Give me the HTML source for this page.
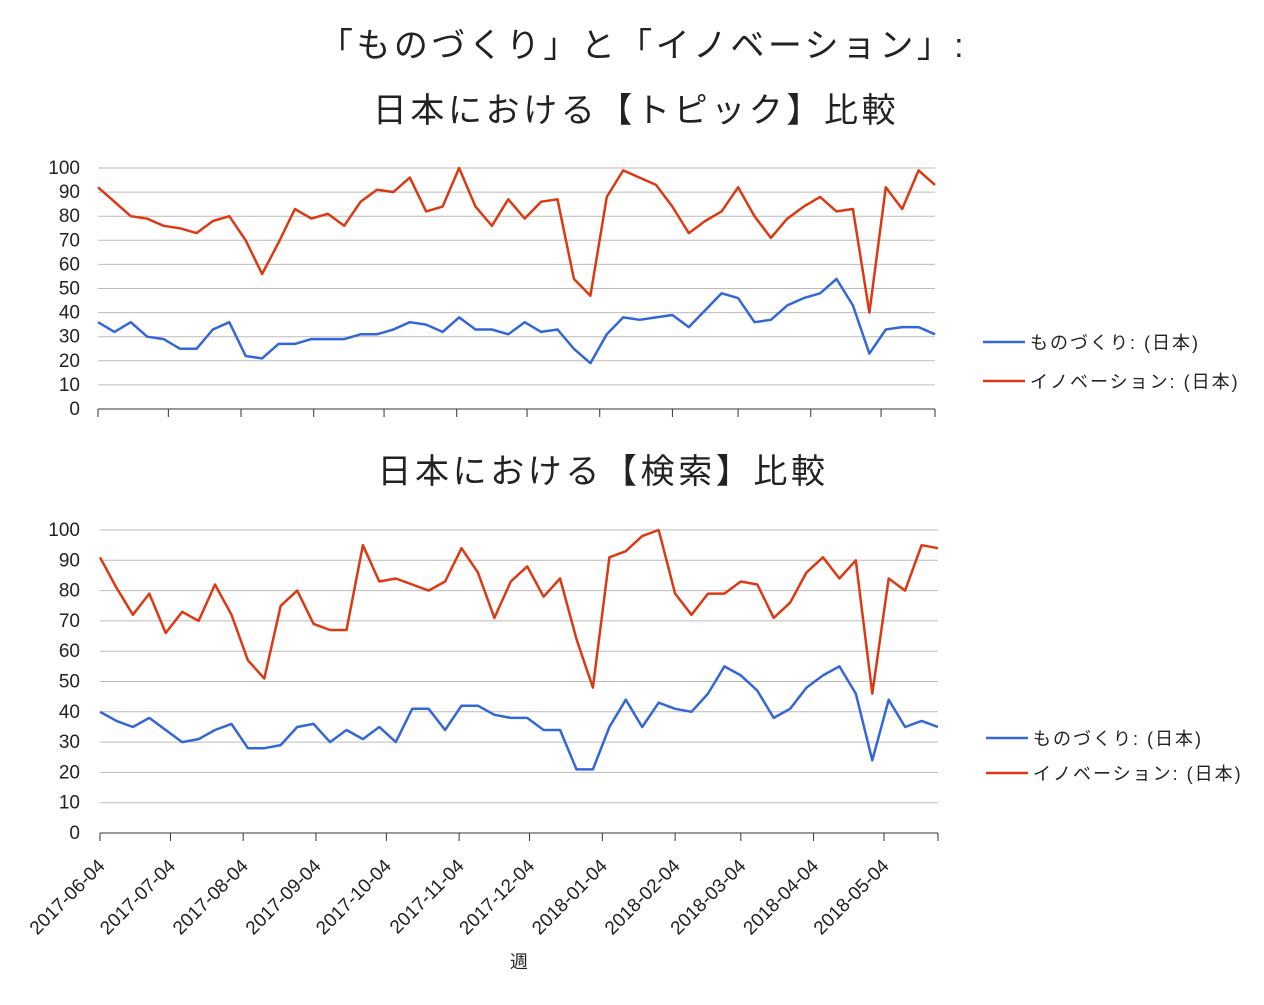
<!DOCTYPE html>
<html><head><meta charset="utf-8"><style>
html,body{margin:0;padding:0;background:#fff;}
svg{display:block;font-family:"Liberation Sans","Noto Sans CJK JP",sans-serif;}
</style></head><body>
<svg id="s" width="1264" height="1005" xmlns="http://www.w3.org/2000/svg">
<rect width="1264" height="1005" fill="#fff"/>
<text x="643" y="57" font-size="34" letter-spacing="3.4" text-anchor="middle" fill="#222">「ものづくり」と「イノベーション」:</text>
<text x="636" y="122" font-size="34" letter-spacing="3.6" text-anchor="middle" fill="#222">日本における【トピック】比較</text>
<text x="603" y="483" font-size="34" letter-spacing="3.6" text-anchor="middle" fill="#222">日本における【検索】比較</text>
<text x="519" y="968" font-size="18" text-anchor="middle" fill="#222">週</text>
<g id="g"></g>
</svg>
<script>
var g=document.getElementById('g');var h='';
function chart(x0,x1,y0,y100,red,blue,lx,ly1,ly2,labels){
  var w=x1-x0,n=red.length,st=w/(n-1),ph=(y0-y100)/100;
  for(var v=0;v<=100;v+=10){var y=y0-v*ph;
    h+='<line x1="'+x0+'" x2="'+x1+'" y1="'+y+'" y2="'+y+'" stroke="'+(v==0?'#333':'#bbb')+'" stroke-width="1"/>';
    h+='<text x="80" y="'+(y+6)+'" font-size="19" text-anchor="end" fill="#222">'+v+'</text>';}
  var months=['2017-06-04','2017-07-04','2017-08-04','2017-09-04','2017-10-04','2017-11-04','2017-12-04','2018-01-04','2018-02-04','2018-03-04','2018-04-04','2018-05-04'];
  var days=[0,30,61,92,122,153,183,214,245,273,304,334];
  h+='<line x1="'+x0+'" x2="'+x0+'" y1="'+y0+'" y2="'+(y0+8)+'" stroke="#333"/>';
  for(var i=0;i<days.length;i++){var x=x0+days[i]/7*st;
    h+='<line x1="'+x+'" x2="'+x+'" y1="'+y0+'" y2="'+(y0+8)+'" stroke="#333"/>';
    if(labels){h+='<text transform="translate('+(x+6)+','+(y0+34)+') rotate(-45)" font-size="19" text-anchor="end" fill="#222">'+months[i]+'</text>';}}
  h+='<line x1="'+x1+'" x2="'+x1+'" y1="'+y0+'" y2="'+(y0+8)+'" stroke="#333"/>';
  function pl(d,c){var p=[];for(var i=0;i<d.length;i++)p.push((x0+i*st).toFixed(1)+','+(y0-d[i]*ph).toFixed(1));
    h+='<polyline points="'+p.join(' ')+'" fill="none" stroke="'+c+'" stroke-width="2.5" stroke-linejoin="round"/>';}
  pl(blue,'#3366d6');pl(red,'#dc3912');
  h+='<line x1="'+lx+'" x2="'+(lx+42)+'" y1="'+ly1+'" y2="'+ly1+'" stroke="#3366d6" stroke-width="2.5"/>';
  h+='<text x="'+(lx+47)+'" y="'+(ly1+7)+'" font-size="18" letter-spacing="2" fill="#222">ものづくり: (日本)</text>';
  h+='<line x1="'+lx+'" x2="'+(lx+42)+'" y1="'+ly2+'" y2="'+ly2+'" stroke="#dc3912" stroke-width="2.5"/>';
  h+='<text x="'+(lx+47)+'" y="'+(ly2+7)+'" font-size="18" letter-spacing="2" fill="#222">イノベーション: (日本)</text>';
}
chart(98,935,409,168,
[92,86,80,79,76,75,73,78,80,70,56,69,83,79,81,76,86,91,90,96,82,84,100,84,76,87,79,86,87,54,47,88,99,96,93,84,73,78,82,92,80,71,79,84,88,82,83,40,92,83,99,93],
[36,32,36,30,29,25,25,33,36,22,21,27,27,29,29,29,31,31,33,36,35,32,38,33,33,31,36,32,33,25,19,31,38,37,38,39,34,41,48,46,36,37,43,46,48,54,43,23,33,34,34,31],
983,342,381,false);
chart(100,938,833,530,
[91,81,72,79,66,73,70,82,72,57,51,75,80,69,67,67,95,83,84,82,80,83,94,86,71,83,88,78,84,64,48,91,93,98,100,79,72,79,79,83,82,71,76,86,91,84,90,46,84,80,95,94],
[40,37,35,38,34,30,31,34,36,28,28,29,35,36,30,34,31,35,30,41,41,34,42,42,39,38,38,34,34,21,21,35,44,35,43,41,40,46,55,52,47,38,41,48,52,55,46,24,44,35,37,35],
986,738,773,true);
g.innerHTML=h;
</script>
</body></html>
